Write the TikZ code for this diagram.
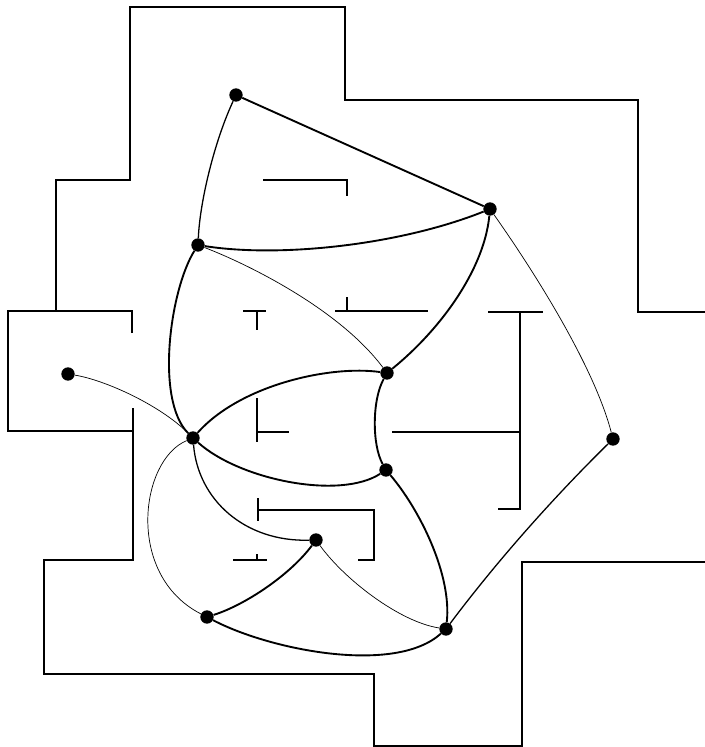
\documentclass[tikz,border=0pt]{standalone}
\usepackage{tikz}

\begin{document}
\begin{tikzpicture}[
    x=0.03cm, y=-0.03cm,
    dot/.style={circle, fill=black, inner sep=0pt, minimum size=0.4cm},
    wall/.style={line width=1.1pt, draw=black},
    heavy/.style={line width=1.6pt},
    medium/.style={line width=1.1pt},
    light/.style={line width=0.6pt},
]
\useasboundingbox (0,0) rectangle (705,747);

% Outer walls
\draw[wall] (705,312) -- (638,312) -- (638,100) -- (345,100) -- (345,7) -- (130,7)
  -- (130,180) -- (56,180) -- (56,311);
\draw[wall] (132,333) -- (132,311) -- (8,311) -- (8,431) -- (133,431);
\draw[wall] (133,408) -- (133,560) -- (44,560) -- (44,674) -- (374,674) -- (374,746)
  -- (522,746) -- (522,562) -- (705,562);

% Inner walls
\draw[wall] (263,180) -- (347,180) -- (347,196);
\draw[wall] (243,311) -- (266,311) (257,311) -- (257,330);
\draw[wall] (335,311) -- (428,311) (347,297) -- (347,311);
\draw[wall] (488,312) -- (543,312) (520,312) -- (520,509) -- (498,509);
\draw[wall] (392,432) -- (520,432);
\draw[wall] (257,398) -- (257,442) (257,432) -- (289,432);
\draw[wall] (258,498) -- (258,521) (258,510) -- (374,510) -- (374,560) -- (358,560);
\draw[wall] (233,560) -- (267,560) (257,554) -- (257,560);

% Vertices
\node[dot] (a) at (236,95) {};
\node[dot] (b) at (198,245) {};
\node[dot] (c) at (490,209) {};
\node[dot] (d) at (68,374) {};
\node[dot] (e) at (193,438) {};
\node[dot] (f) at (387,373) {};
\node[dot] (g) at (386,470) {};
\node[dot] (h) at (316,540) {};
\node[dot] (i) at (207,617) {};
\node[dot] (j) at (446,629) {};
\node[dot] (k) at (613,439) {};

% Edges
\draw[heavy] (a) -- (c);
\draw[medium] (a) .. controls (215,140) and (200,200) .. (b);
\draw[heavy] (b) .. controls (280,258) and (400,245) .. (c);
\draw[light] (b) .. controls (250,265) and (340,310) .. (f);
\draw[heavy] (c) .. controls (484,270) and (440,330) .. (f);
\draw[light] (c) .. controls (540,280) and (595,370) .. (k);
\draw[heavy] (b) .. controls (170,290) and (155,400) .. (e);
\draw[medium] (e) .. controls (198,500) and (245,542) .. (h);
\draw[light] (d) .. controls (105,380) and (160,405) .. (e);
\draw[heavy] (e) .. controls (240,385) and (330,365) .. (f);
\draw[heavy] (e) .. controls (240,480) and (340,500) .. (g);
\draw[heavy] (f) .. controls (372,400) and (372,445) .. (g);
\draw[light] (e) .. controls (140,460) and (125,575) .. (i);
\draw[heavy] (h) .. controls (290,575) and (245,605) .. (i);
\draw[light] (h) .. controls (345,580) and (400,622) .. (j);
\draw[heavy] (g) .. controls (420,510) and (452,575) .. (j);
\draw[heavy] (i) .. controls (270,650) and (395,675) .. (j);
\draw[medium] (j) .. controls (497,561) and (553,498) .. (k);

\end{tikzpicture}
\end{document}
